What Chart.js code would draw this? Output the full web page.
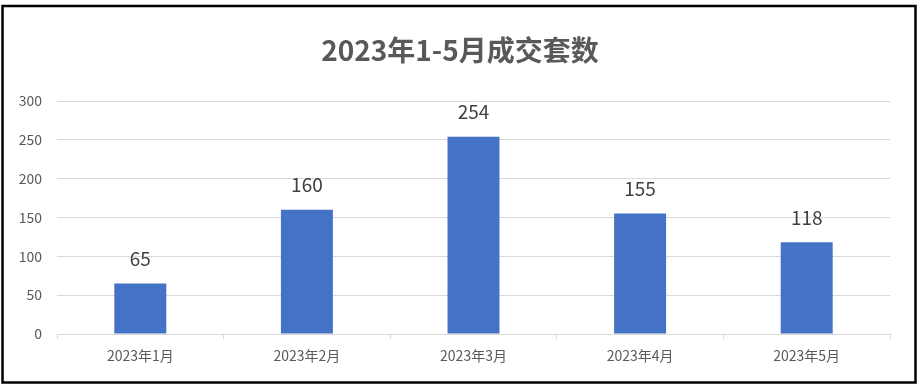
<!DOCTYPE html>
<html>
<head>
<meta charset="utf-8">
<script src="https://cdn.jsdelivr.net/npm/chart.js@4"></script>
<style>
  html, body { margin: 0; padding: 0; background: #fff; }
  #wrap { position: relative; width: 923px; height: 385px; }
</style>
</head>
<body>
<div id="wrap"><canvas id="myChart" width="923" height="385"></canvas></div>
<script>
var titleText = "2023年1-5月成交套数";
var labels = ["2023年1月", "2023年2月", "2023年3月", "2023年4月", "2023年5月"];
var data = [65, 160, 254, 155, 118];
var yTicks = [0, 50, 100, 150, 200, 250, 300];

var font = "'Microsoft YaHei', 'Noto Sans CJK SC', sans-serif";

// frame, title and value labels
var extras = {
	id: "extras",
	beforeDraw: function(chart) {
		var ctx = chart.ctx;
		ctx.save();
		ctx.fillStyle = "#fff";
		ctx.fillRect(0, 0, chart.width, chart.height);
		ctx.restore();
	},
	afterDraw: function(chart) {
		var ctx = chart.ctx;
		ctx.save();
		ctx.strokeStyle = "#000";
		ctx.lineWidth = 2.5;
		ctx.strokeRect(2.5, 6, 913, 376.5);

		ctx.fillStyle = "#595959";
		ctx.font = "bold 28px " + font;
		ctx.textAlign = "center";
		ctx.textBaseline = "middle";
		ctx.fillText(titleText, 460, 50);

		ctx.fillStyle = "#404040";
		ctx.font = "19px " + font;
		var meta = chart.getDatasetMeta(0);
		meta.data.forEach(function(bar, i) {
			ctx.fillText(String(data[i]), bar.x, bar.y - 25);
		});
		ctx.restore();
	}
};

var ctx = document.getElementById("myChart");
var myChart = new Chart(ctx, {
	type: "bar",
	data: {
		labels: labels,
		datasets: [{
			data: data,
			backgroundColor: "#4472C4",
			barPercentage: 0.312,
			categoryPercentage: 1
		}]
	},
	options: {
		responsive: false,
		animation: false,
		layout: { padding: { top: 101, left: 0, right: 33, bottom: 0 } },
		plugins: {
			legend: { display: false },
			title: { display: false },
			tooltip: { enabled: false }
		},
		scales: {
			x: {
				grid: { drawOnChartArea: false, color: "#D9D9D9", tickLength: 5 },
				border: { color: "#D9D9D9" },
				ticks: { color: "#595959", font: { family: font, size: 14 }, padding: 8, maxRotation: 0 },
				afterFit: function(scale) { scale.height = 51; }
			},
			y: {
				min: 0,
				max: 300,
				afterBuildTicks: function(scale) {
					scale.ticks = yTicks.map(function(v) { return { value: v }; });
				},
				grid: { color: "#D9D9D9", drawTicks: false },
				border: { display: false },
				ticks: { color: "#595959", font: { family: font, size: 14 }, padding: 15 },
				afterFit: function(scale) { scale.width = 57; }
			}
		}
	},
	plugins: [extras]
});
</script>
</body>
</html>
